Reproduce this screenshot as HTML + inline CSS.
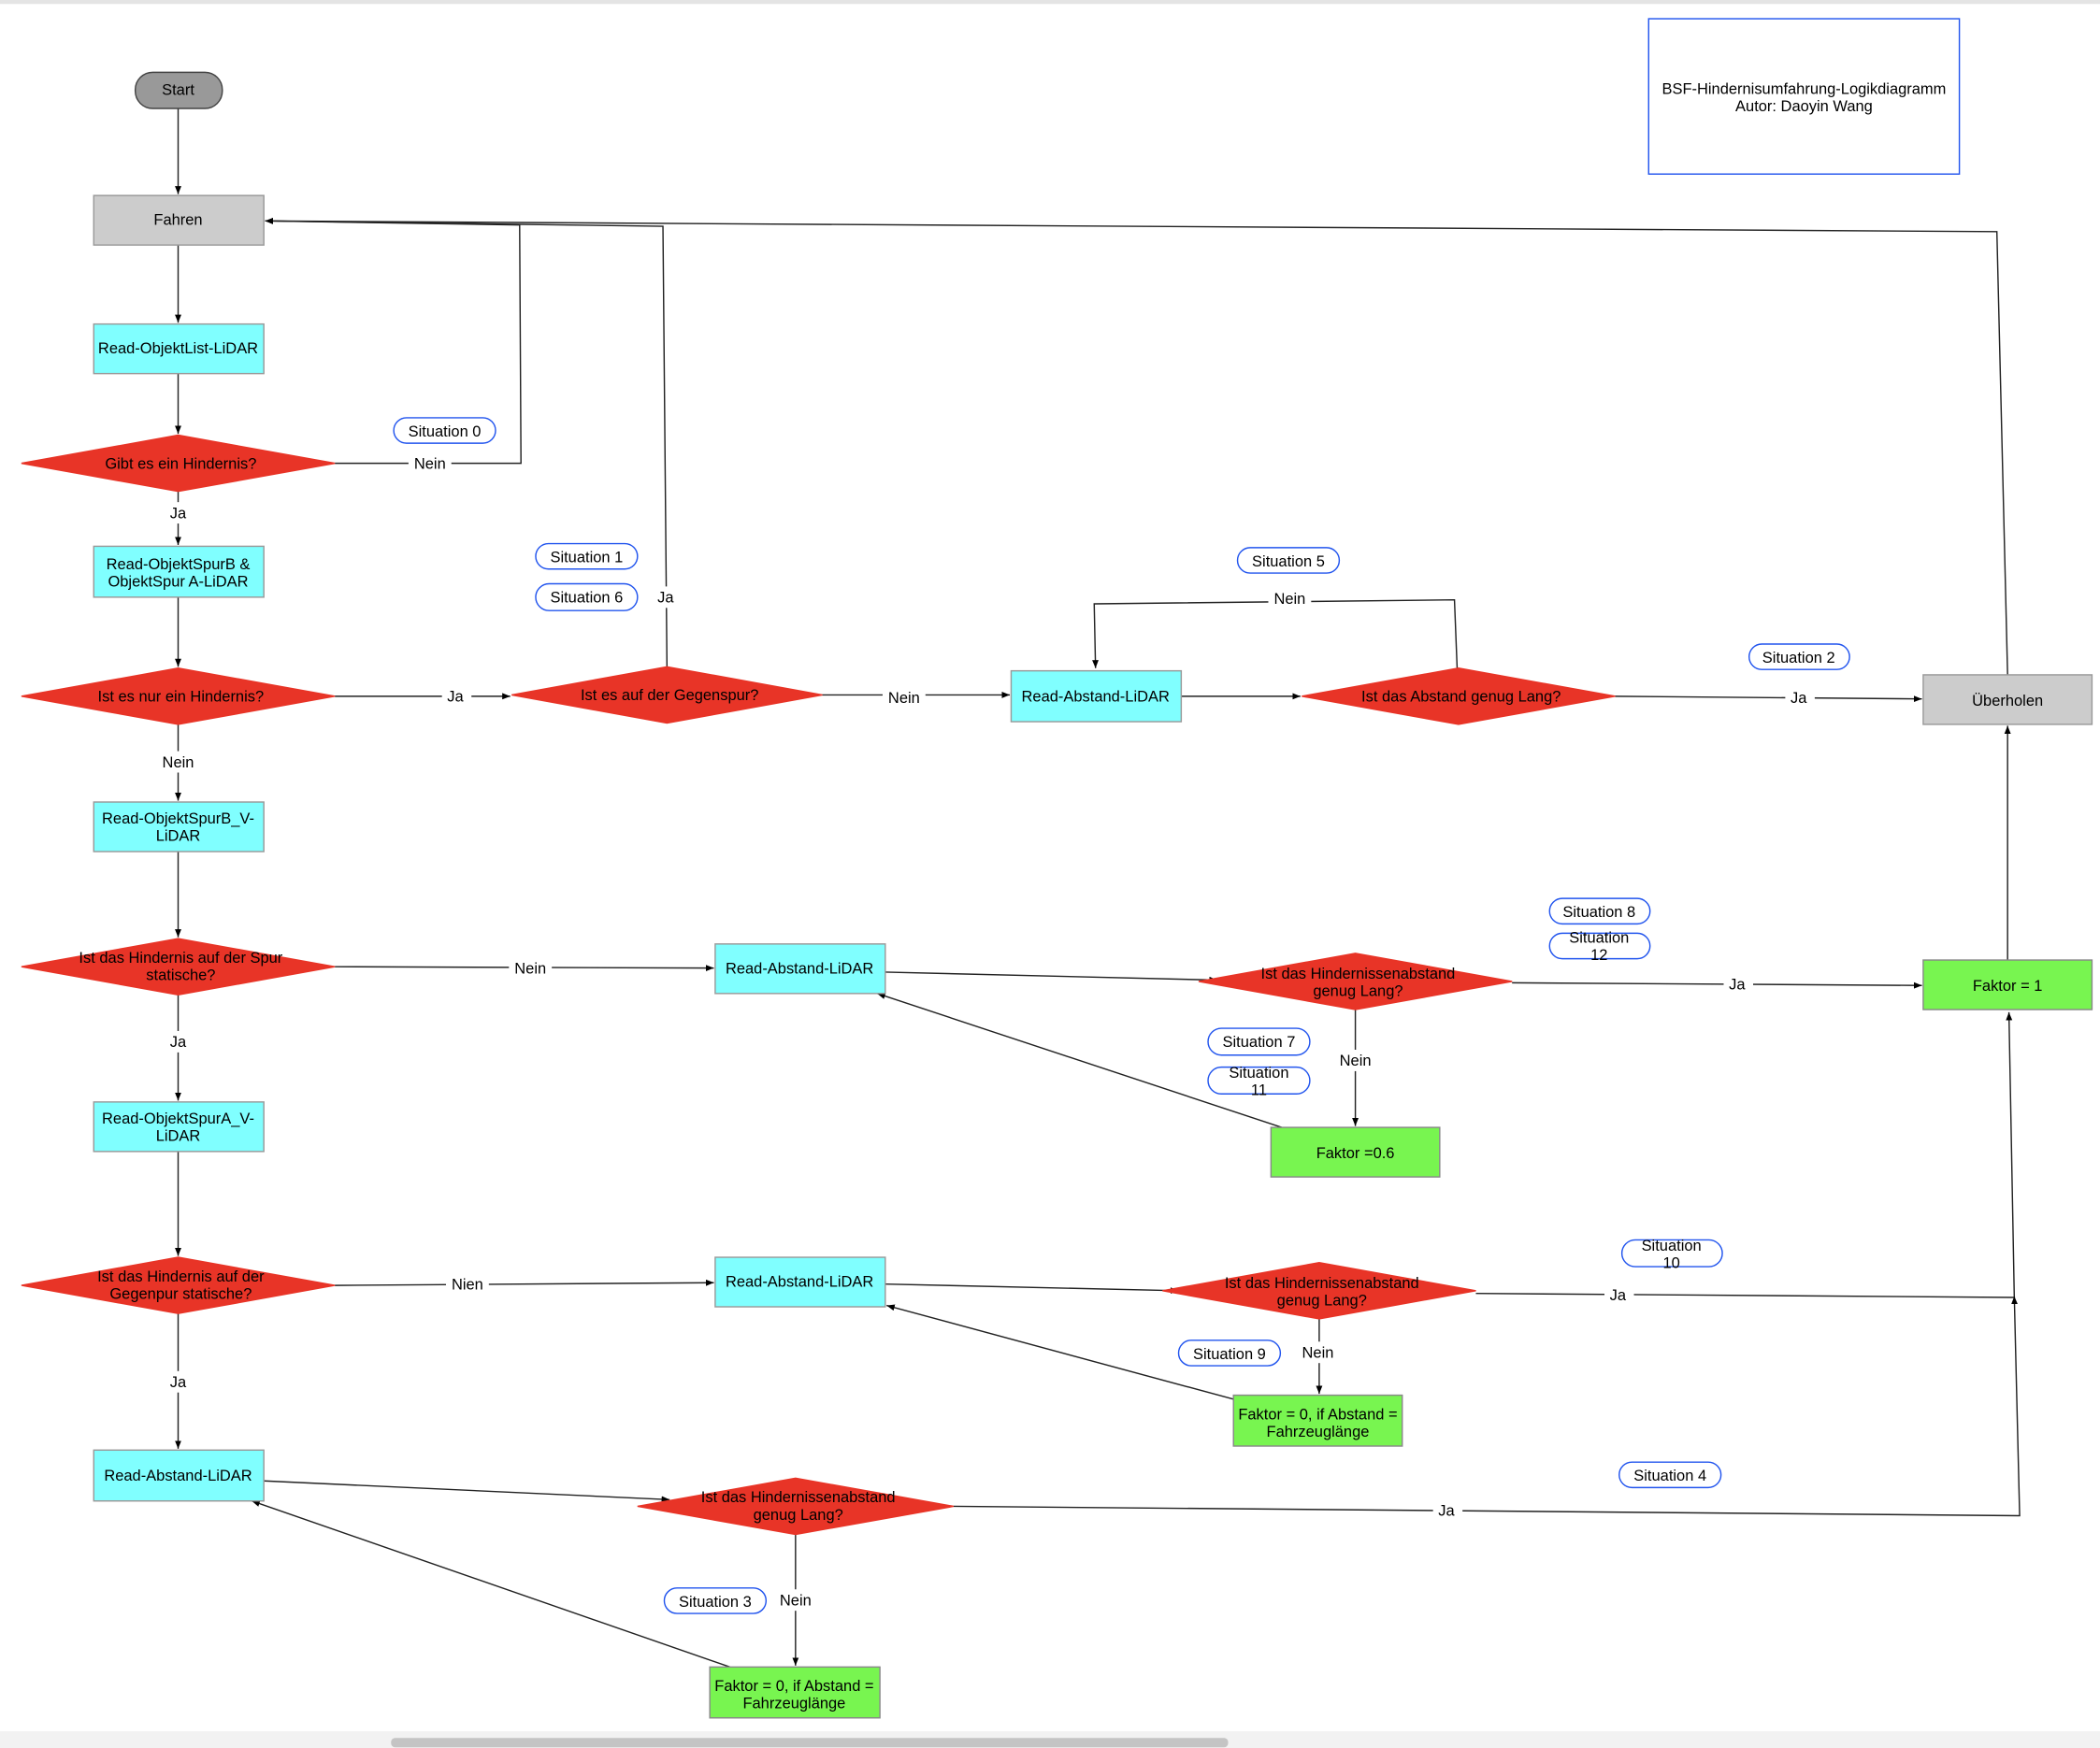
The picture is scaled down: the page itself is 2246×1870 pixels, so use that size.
<!DOCTYPE html>
<html><head><meta charset="utf-8"><style>
html,body{margin:0;padding:0;background:#fff;}
svg{display:block;}
text{font-family:"Liberation Sans",Arial,sans-serif;font-size:11.5px;fill:#000;text-anchor:middle;}
.ln{stroke:#222;stroke-width:1;fill:none;}
.d{fill:#e83427;stroke:#e83427;}
.c{fill:#80ffff;stroke:#999;}
.g{fill:#78f550;stroke:#888;}
.gr{fill:#cccccc;stroke:#999;}
.p{fill:#fff;stroke:#2255ee;stroke-width:1;}
.lb{fill:#fff;stroke:none;}
</style></head><body>
<svg width="2246" height="1870" viewBox="0 0 1568 1305.5" preserveAspectRatio="none" xmlns="http://www.w3.org/2000/svg">
<defs><marker id="a" viewBox="0 0 10 10" refX="10" refY="5" markerWidth="6" markerHeight="6" orient="auto"><path d="M0,1 L10,5 L0,9 z" fill="#000"/></marker></defs>
<rect x="0" y="0" width="1568" height="3" fill="#e4e4e4"/>
<rect x="0" y="1293" width="1568" height="13" fill="#f2f2f2"/>
<rect x="292" y="1298" width="625" height="7" rx="3" fill="#c4c4c4"/>

<!-- title -->
<rect x="1231" y="14" width="232" height="116" fill="#fff" stroke="#2255ee"/>
<text x="1347" y="70">BSF-Hindernisumfahrung-Logikdiagramm</text>
<text x="1347" y="83">Autor: Daoyin Wang</text>

<!-- connectors -->
<g class="ln">
<path d="M133,81 V145" marker-end="url(#a)"/>
<path d="M133,183 V241" marker-end="url(#a)"/>
<path d="M133,279 V324" marker-end="url(#a)"/>
<path d="M133,367 V407" marker-end="url(#a)"/>
<path d="M133,446 V498" marker-end="url(#a)"/>
<path d="M133,541 V598" marker-end="url(#a)"/>
<path d="M133,636 V700" marker-end="url(#a)"/>
<path d="M133,743 V822" marker-end="url(#a)"/>
<path d="M133,860 V938" marker-end="url(#a)"/>
<path d="M133,981 V1082" marker-end="url(#a)"/>
<path d="M250,346 H389 L388,168 L198,165" marker-end="url(#a)"/>
<path d="M498,498 L495,169 L198,165" marker-end="url(#a)"/>
<path d="M1499,504 L1491,173 L198,165" marker-end="url(#a)"/>
<path d="M250,520 H381" marker-end="url(#a)"/>
<path d="M614,519 H754" marker-end="url(#a)"/>
<path d="M882,520 H971" marker-end="url(#a)"/>
<path d="M1088,499 L1086,448 L817,451 L818,499" marker-end="url(#a)"/>
<path d="M1206,520 L1435,522" marker-end="url(#a)"/>
<path d="M250,722 L533,723" marker-end="url(#a)"/>
<path d="M661,726 L909,732" marker-end="url(#a)"/>
<path d="M1129,734 L1435,736" marker-end="url(#a)"/>
<path d="M1012,754 V841" marker-end="url(#a)"/>
<path d="M957,842 L655,742" marker-end="url(#a)"/>
<path d="M1499,717 V542" marker-end="url(#a)"/>
<path d="M250,960 L533,958" marker-end="url(#a)"/>
<path d="M661,959 L880,964" marker-end="url(#a)"/>
<path d="M1102,966 L1504,969 L1500,756" marker-end="url(#a)"/>
<path d="M985,985 V1041" marker-end="url(#a)"/>
<path d="M921,1045 L662,975" marker-end="url(#a)"/>
<path d="M197,1106 L500,1120" marker-end="url(#a)"/>
<path d="M712,1125 L1508,1132 L1504,968" marker-end="url(#a)"/>
<path d="M594,1146 V1244" marker-end="url(#a)"/>
<path d="M545,1245 L188,1121" marker-end="url(#a)"/>
</g>

<!-- edge labels -->
<g>
<rect class="lb" x="305" y="338" width="32" height="16"/><text x="321" y="350">Nein</text>
<rect class="lb" x="122" y="375" width="22" height="16"/><text x="133" y="387">Ja</text>
<rect class="lb" x="330" y="512" width="22" height="16"/><text x="340" y="524">Ja</text>
<rect class="lb" x="487" y="438" width="22" height="16"/><text x="497" y="450">Ja</text>
<rect class="lb" x="659" y="513" width="32" height="16"/><text x="675" y="525">Nein</text>
<rect class="lb" x="947" y="439" width="32" height="16"/><text x="963" y="451">Nein</text>
<rect class="lb" x="1333" y="513" width="22" height="16"/><text x="1343" y="525">Ja</text>
<rect class="lb" x="117" y="561" width="32" height="16"/><text x="133" y="573">Nein</text>
<rect class="lb" x="380" y="715" width="32" height="16"/><text x="396" y="727">Nein</text>
<rect class="lb" x="1287" y="727" width="22" height="16"/><text x="1297" y="739">Ja</text>
<rect class="lb" x="996" y="784" width="32" height="16"/><text x="1012" y="796">Nein</text>
<rect class="lb" x="122" y="770" width="22" height="16"/><text x="133" y="782">Ja</text>
<rect class="lb" x="333" y="951" width="32" height="16"/><text x="349" y="963">Nien</text>
<rect class="lb" x="1198" y="959" width="22" height="16"/><text x="1208" y="971">Ja</text>
<rect class="lb" x="968" y="1002" width="32" height="16"/><text x="984" y="1014">Nein</text>
<rect class="lb" x="122" y="1024" width="22" height="16"/><text x="133" y="1036">Ja</text>
<rect class="lb" x="1070" y="1120" width="22" height="16"/><text x="1080" y="1132">Ja</text>
<rect class="lb" x="578" y="1187" width="32" height="16"/><text x="594" y="1199">Nein</text>
</g>

<!-- nodes -->
<rect x="101" y="54" width="65" height="27" rx="13" fill="#999" stroke="#444"/><text x="133" y="71">Start</text>
<rect class="gr" x="70" y="146" width="127" height="37"/><text x="133" y="168">Fahren</text>
<rect class="c" x="70" y="242" width="127" height="37"/><text x="133" y="264">Read-ObjektList-LiDAR</text>
<polygon class="d" points="16,346 133,325 250,346 133,367"/><text x="135" y="350">Gibt es ein Hindernis?</text>
<rect class="c" x="70" y="408" width="127" height="38"/><text x="133" y="425">Read-ObjektSpurB &amp;</text><text x="133" y="438">ObjektSpur A-LiDAR</text>
<polygon class="d" points="16,520 133,499 250,520 133,541"/><text x="135" y="524">Ist es nur ein Hindernis?</text>
<rect class="c" x="70" y="599" width="127" height="37"/><text x="133" y="615">Read-ObjektSpurB_V-</text><text x="133" y="628">LiDAR</text>
<polygon class="d" points="16,722 133,701 250,722 133,743"/><text x="135" y="719">Ist das Hindernis auf der Spur</text><text x="135" y="732">statische?</text>
<rect class="c" x="70" y="823" width="127" height="37"/><text x="133" y="839">Read-ObjektSpurA_V-</text><text x="133" y="852">LiDAR</text>
<polygon class="d" points="16,960 133,939 250,960 133,981"/><text x="135" y="957">Ist das Hindernis auf der</text><text x="135" y="970">Gegenpur statische?</text>
<rect class="c" x="70" y="1083" width="127" height="38"/><text x="133" y="1106">Read-Abstand-LiDAR</text>
<polygon class="d" points="476,1125 594,1104 712,1125 594,1146"/><text x="596" y="1122">Ist das Hindernissenabstand</text><text x="596" y="1135">genug Lang?</text>
<rect class="g" x="530" y="1245" width="127" height="38"/><text x="593" y="1263">Faktor = 0, if Abstand =</text><text x="593" y="1276">Fahrzeuglänge</text>

<polygon class="d" points="382,519 498,498 614,519 498,540"/><text x="500" y="523">Ist es auf der Gegenspur?</text>
<rect class="c" x="755" y="501" width="127" height="38"/><text x="818" y="524">Read-Abstand-LiDAR</text>
<polygon class="d" points="972,520 1089,499 1206,520 1089,541"/><text x="1091" y="524">Ist das Abstand genug Lang?</text>
<rect class="gr" x="1436" y="504" width="126" height="37"/><text x="1499" y="527">Überholen</text>

<rect class="c" x="534" y="705" width="127" height="37"/><text x="597" y="727">Read-Abstand-LiDAR</text>
<polygon class="d" points="895,733 1012,712 1129,733 1012,754"/><text x="1014" y="731">Ist das Hindernissenabstand</text><text x="1014" y="744">genug Lang?</text>
<rect class="g" x="1436" y="717" width="126" height="37"/><text x="1499" y="740">Faktor = 1</text>
<rect class="g" x="949" y="842" width="126" height="37"/><text x="1012" y="865">Faktor =0.6</text>

<rect class="c" x="534" y="939" width="127" height="37"/><text x="597" y="961">Read-Abstand-LiDAR</text>
<polygon class="d" points="868,964 985,943 1102,964 985,985"/><text x="987" y="962">Ist das Hindernissenabstand</text><text x="987" y="975">genug Lang?</text>
<rect class="g" x="921" y="1042" width="126" height="38"/><text x="984" y="1060">Faktor = 0, if Abstand =</text><text x="984" y="1073">Fahrzeuglänge</text>

<!-- situation pills -->
<rect class="p" x="294" y="312" width="76" height="19" rx="9.5"/><text x="332" y="326">Situation 0</text>
<rect class="p" x="400" y="406" width="76" height="19" rx="9.5"/><text x="438" y="420">Situation 1</text>
<rect class="p" x="400" y="436" width="76" height="20" rx="10"/><text x="438" y="450">Situation 6</text>
<rect class="p" x="924" y="409" width="76" height="19" rx="9.5"/><text x="962" y="423">Situation 5</text>
<rect class="p" x="1306" y="481" width="75" height="19" rx="9.5"/><text x="1343" y="495">Situation 2</text>
<rect class="p" x="1157" y="671" width="75" height="19" rx="9.5"/><text x="1194" y="685">Situation 8</text>
<rect class="p" x="1157" y="697" width="75" height="19" rx="9.5"/><text x="1194" y="704">Situation</text><text x="1194" y="717">12</text>
<rect class="p" x="902" y="768" width="76" height="20" rx="10"/><text x="940" y="782">Situation 7</text>
<rect class="p" x="902" y="797" width="76" height="20" rx="10"/><text x="940" y="805">Situation</text><text x="940" y="818">11</text>
<rect class="p" x="1211" y="926" width="75" height="20" rx="10"/><text x="1248" y="934">Situation</text><text x="1248" y="947">10</text>
<rect class="p" x="880" y="1001" width="76" height="19" rx="9.5"/><text x="918" y="1015">Situation 9</text>
<rect class="p" x="1209" y="1092" width="76" height="19" rx="9.5"/><text x="1247" y="1106">Situation 4</text>
<rect class="p" x="496" y="1186" width="76" height="19" rx="9.5"/><text x="534" y="1200">Situation 3</text>
</svg>
</body></html>
